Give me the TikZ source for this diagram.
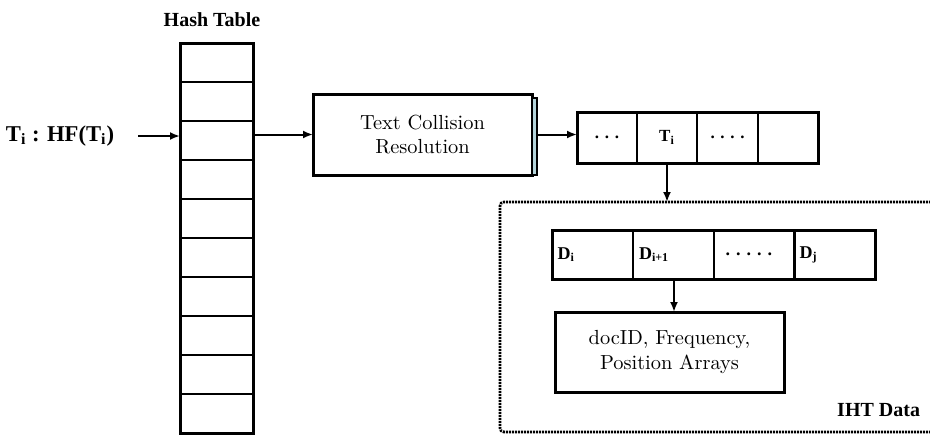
\documentclass[tikz,border=0pt]{standalone}
\usepackage{fontspec}
\usetikzlibrary{arrows.meta}
\newfontfamily\timesfont{Liberation Serif}
\definecolor{stripblue}{HTML}{B4D4DA}

\begin{document}
\begin{tikzpicture}[x=0.5pt,y=-0.5pt,
    every node/.style={inner sep=0pt,outer sep=0pt},
    slot/.style={draw,line width=0.6pt,minimum width=36.5pt,minimum height=19.5pt},
    cell/.style={draw,line width=0.6pt,minimum width=30pt,minimum height=25.5pt,font=\timesfont\bfseries\fontsize{8.5}{10}\selectfont},
    dcell/.style={draw,line width=0.6pt,minimum height=24.5pt,text width=35pt,inner xsep=2.75pt,align=left,font=\timesfont\bfseries\fontsize{9}{10}\selectfont},
    box/.style={draw,line width=1.5pt,align=center,font=\fontsize{10.2}{12.2}\selectfont},
    label/.style={font=\timesfont\bfseries\fontsize{10}{12}\selectfont},
    arr/.style={-{Latex[length=5pt,width=4pt]},line width=1pt}]
  \useasboundingbox (0,0) rectangle (930,434);

  % hash table
  \node[label] (htitle) at (212,20) {Hash Table};
  \foreach \r in {1,...,10}
    \node[slot] (slot\r) at (216.5,{43+39*(\r-0.5)}) {};
  \draw[line width=1.5pt] (slot1.north west) rectangle (slot10.south east);
  \node[label,font=\timesfont\bfseries\fontsize{11.3}{13}\selectfont] (term) at (60,136) {T\textsubscript{i} : HF(T\textsubscript{i})};
  \draw[arr,shorten <=12pt] (term.east) -- (term.east -| slot3.west);

  % collision resolution
  \node[box,minimum width=109.5pt,minimum height=40.5pt] (tcr) at (422.5,134.5) {Text Collision\\Resolution};
  \draw[fill=stripblue,line width=0.6pt] ([yshift=-2pt]tcr.north east) rectangle ([xshift=2.5pt]tcr.south east);
  \draw[arr] (slot3.east |- tcr.west) -- (tcr.west);

  % term list
  \node[cell] (c1) at (607,137.5) {.\,\,.\,\,.};
  \node[cell] (c2) at (667,137.5) {T\textsubscript{i}};
  \node[cell] (c3) at (727.5,137.5) {.\,\,.\,\,.\,\,.};
  \node[cell] (c4) at (788,137.5) {};
  \draw[line width=1.5pt] (c1.north west) rectangle (c4.south east);
  \draw[arr] ([xshift=2.5pt]tcr.east) -- (c1.west |- tcr.east);

  % IHT data
  \node[draw,line width=1.4pt,dash pattern=on 1pt off 0.5pt,rounded corners=2pt,minimum width=225pt,minimum height=115pt] (iht) at (725,317) {};
  \node[label,anchor=east] (ihtlabel) at (920,410) {IHT Data};
  \draw[arr] (c2.south) -- (c2.south |- iht.north);

  \node[dcell] (d1) at (592.5,254.5) {D\textsubscript{i}};
  \node[dcell] (d2) at (674,254.5) {D\textsubscript{i+1}};
  \node[dcell] (d3) at (754.5,254.5) {\,\,.\,\,.\,\,.\,\,.\,\,.};
  \node[dcell] (d4) at (834.5,254.5) {D\textsubscript{j}};
  \draw[line width=1.5pt] (d1.north west) rectangle (d4.south east);

  \node[box,minimum width=114.5pt,minimum height=40pt] (pos) at (669.5,352) {docID, Frequency,\\Position Arrays};
  \draw[arr] (d2.south) -- (d2.south |- pos.north);
\end{tikzpicture}
\end{document}
